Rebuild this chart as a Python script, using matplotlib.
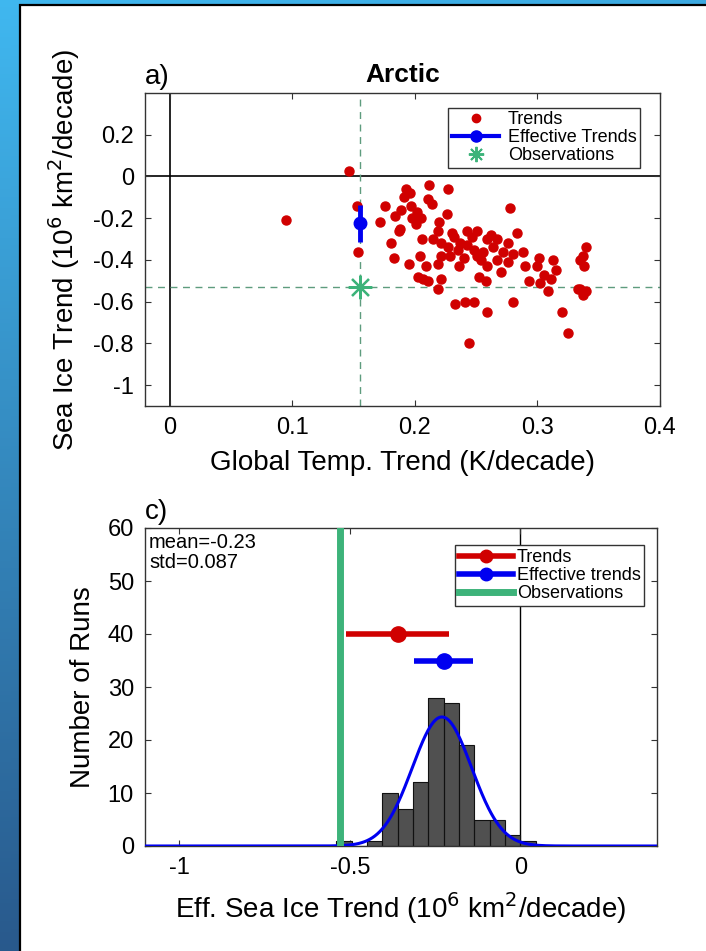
import numpy as np
import matplotlib
matplotlib.use('Agg')
import matplotlib.pyplot as plt
from matplotlib.patches import Rectangle
from matplotlib.lines import Line2D

plt.rcParams['font.family'] = ['Liberation Sans', 'DejaVu Sans']

# per-run trends: global temperature trend vs sea ice trend
glob_trend = [0.146, 0.095, 0.153, 0.154, 0.176, 0.172, 0.181, 0.183, 0.184, 0.187,
              0.193, 0.212, 0.227, 0.191, 0.211, 0.278, 0.189, 0.197, 0.202, 0.198,
              0.205, 0.201, 0.220, 0.188, 0.219, 0.283, 0.206, 0.215, 0.221, 0.232,
              0.243, 0.251, 0.237, 0.247, 0.227, 0.235, 0.259, 0.267, 0.276, 0.264,
              0.272, 0.280, 0.248, 0.256, 0.204, 0.221, 0.229, 0.240, 0.251, 0.267,
              0.276, 0.301, 0.313, 0.335, 0.195, 0.209, 0.219, 0.236, 0.259, 0.270,
              0.290, 0.300, 0.315, 0.203, 0.211, 0.221, 0.207, 0.219, 0.252, 0.258,
              0.293, 0.302, 0.311, 0.309, 0.333, 0.233, 0.241, 0.248, 0.259, 0.280,
              0.320, 0.325, 0.244, 0.337, 0.340, 0.338, 0.335, 0.340, 0.337, 0.196,
              0.214, 0.226, 0.243, 0.262, 0.288, 0.305, 0.230, 0.254]
ice_trend = [0.025, -0.21, -0.14, -0.36, -0.14, -0.22, -0.32, -0.39, -0.19, -0.26,
             -0.06, -0.04, -0.06, -0.10, -0.11, -0.15, -0.16, -0.14, -0.17, -0.20,
             -0.20, -0.23, -0.22, -0.25, -0.26, -0.27, -0.30, -0.30, -0.32, -0.29,
             -0.26, -0.26, -0.32, -0.29, -0.34, -0.35, -0.30, -0.30, -0.32, -0.34,
             -0.36, -0.37, -0.35, -0.36, -0.38, -0.38, -0.38, -0.39, -0.38, -0.40,
             -0.41, -0.39, -0.40, -0.40, -0.42, -0.43, -0.42, -0.43, -0.43, -0.46,
             -0.43, -0.43, -0.45, -0.48, -0.50, -0.49, -0.49, -0.54, -0.48, -0.50,
             -0.50, -0.51, -0.49, -0.55, -0.54, -0.61, -0.60, -0.60, -0.65, -0.60,
             -0.65, -0.75, -0.80, -0.38, -0.34, -0.43, -0.54, -0.55, -0.57, -0.08,
             -0.13, -0.18, -0.33, -0.28, -0.36, -0.47, -0.27, -0.40]

eff_x, eff_y, eff_err = 0.155, -0.225, 0.087
obs_x, obs_y = 0.155, -0.53

# histogram of effective trends
bin_edges = np.arange(-12, 2) * 0.045
counts = [1, 0, 1, 10, 7, 12, 28, 27, 19, 5, 5, 2, 1]
mu, sigma = -0.23, 0.087

trend_mean, trend_err = -0.36, 0.15
eff_mean, eff_spread = -0.225, 0.087

red = '#D00000'
blue = '#0000F0'
green = '#3DB37A'

fig = plt.figure(figsize=(7.06, 9.51), dpi=100)

# backdrop
bg = fig.add_axes([0, 0, 1, 1], zorder=-10)
gy = np.linspace(0, 1, 256)[:, None]
gx = np.linspace(0, 1, 64)[None, :]
g = np.clip(gy + 0.15 * gx, 0, 1)
top_c = np.array([0.25, 0.72, 0.94])
bot_c = np.array([0.16, 0.35, 0.55])
img = top_c[None, None, :] * (1 - g[..., None]) + bot_c[None, None, :] * g[..., None]
bg.imshow(img, aspect='auto', extent=[0, 1, 0, 1], origin='upper')
bg.add_patch(Rectangle((20 / 706, -0.01), 1, 1 - 5 / 951 + 0.01, facecolor='white',
                       edgecolor='black', linewidth=1.6, transform=bg.transAxes))
bg.set_xlim(0, 1)
bg.set_ylim(0, 1)
bg.axis('off')

# a) scatter
ax1 = fig.add_axes([145 / 706, 1 - 406 / 951, 515 / 706, 313 / 951])
ax1.axhline(0, color='black', lw=1.2, zorder=1)
ax1.axvline(0, color='black', lw=1.2, zorder=1)
ax1.axvline(obs_x, color='#5E9C7E', lw=1, ls=(0, (5, 4)), zorder=1)
ax1.axhline(obs_y, color='#5E9C7E', lw=1, ls=(0, (5, 4)), zorder=1)
ax1.plot(glob_trend, ice_trend, 'o', color=red, ms=6.5, mec=red, zorder=3)
ax1.errorbar(eff_x, eff_y, yerr=eff_err, fmt='o', color=blue, ms=9, elinewidth=3.5,
             capsize=0, zorder=4)
ax1.plot(obs_x, obs_y, marker=(8, 2, 0), color=green, ms=17, mew=1.6, ls='none', zorder=4)
ax1.set_xlim(-0.02, 0.4)
ax1.set_ylim(-1.1, 0.4)
ax1.set_xticks([0, 0.1, 0.2, 0.3, 0.4])
ax1.set_xticklabels(['0', '0.1', '0.2', '0.3', '0.4'])
ax1.set_yticks([0.2, 0, -0.2, -0.4, -0.6, -0.8, -1])
ax1.set_yticklabels(['0.2', '0', '-0.2', '-0.4', '-0.6', '-0.8', '-1'])
ax1.set_xlabel('Global Temp. Trend (K/decade)', fontsize=20, labelpad=8)
ax1.set_ylabel('Sea Ice Trend (10$^6$ km$^2$/decade)', fontsize=20, labelpad=8)
ax1.set_title('Arctic', fontsize=19, fontweight='bold', pad=8)
ax1.text(0, 1.01, 'a)', transform=ax1.transAxes, fontsize=20, ha='left', va='bottom')
h1 = [Line2D([], [], marker='o', color=red, ls='none', ms=6),
      Line2D([], [], marker='o', color=blue, lw=3, ms=8),
      Line2D([], [], marker=(8, 2, 0), color=green, ls='none', ms=11, mew=1.4)]
leg1 = ax1.legend(h1, ['Trends', 'Effective Trends', 'Observations'], loc='upper right',
                  bbox_to_anchor=(0.962, 0.953), fontsize=13, frameon=True, fancybox=False,
                  edgecolor='#333333', framealpha=1, handlelength=2.6, borderpad=0.2,
                  labelspacing=0.05, handletextpad=0.5, borderaxespad=0)
leg1.get_frame().set_linewidth(1)

# c) histogram
ax2 = fig.add_axes([145 / 706, 1 - 846 / 951, 512 / 706, 318 / 951])
ax2.stairs(counts, bin_edges, fill=True, facecolor='#505050', edgecolor='none', zorder=2)
ax2.bar(bin_edges[:-1], counts, width=np.diff(bin_edges), align='edge', facecolor='none',
        edgecolor='#111111', lw=0.8, zorder=2)
xs = np.linspace(-1.1, 0.4, 600)
bw = 0.045
ys = sum(counts) * bw / (sigma * np.sqrt(2 * np.pi)) * np.exp(-0.5 * ((xs - mu) / sigma) ** 2)
ax2.plot(xs, ys, color=blue, lw=2.2, zorder=3)
ax2.axvline(0, color='black', lw=1, zorder=1)
ax2.axvline(obs_y, color=green, lw=5, zorder=4)
ax2.errorbar(trend_mean, 40, xerr=trend_err, fmt='o', color=red, ms=11, elinewidth=4,
             capsize=0, zorder=5)
ax2.errorbar(eff_mean, 35, xerr=eff_spread, fmt='o', color=blue, ms=11, elinewidth=4,
             capsize=0, zorder=5)
ax2.set_xlim(-1.1, 0.4)
ax2.set_ylim(0, 60)
ax2.set_xticks([-1, -0.5, 0])
ax2.set_xticklabels(['-1', '-0.5', '0'])
ax2.set_yticks(range(0, 61, 10))
ax2.set_xlabel('Eff. Sea Ice Trend (10$^6$ km$^2$/decade)', fontsize=20, labelpad=8)
ax2.set_ylabel('Number of Runs', fontsize=20, labelpad=8)
ax2.text(0, 1.01, 'c)', transform=ax2.transAxes, fontsize=20, ha='left', va='bottom')
ax2.text(0.008, 0.985, 'mean=%.2f\nstd=%.3f' % (mu, sigma), transform=ax2.transAxes,
         fontsize=14.5, ha='left', va='top', linespacing=1.05)
h2 = [Line2D([], [], marker='o', color=red, lw=4, ms=9),
      Line2D([], [], marker='o', color=blue, lw=4, ms=9),
      Line2D([], [], color=green, lw=5)]
leg2 = ax2.legend(h2, ['Trends', 'Effective trends', 'Observations'], loc='upper right',
                  bbox_to_anchor=(0.975, 0.945), fontsize=13, frameon=True, fancybox=False,
                  edgecolor='#333333', framealpha=1, handlelength=3.0, borderpad=0.2,
                  labelspacing=0.05, handletextpad=0.2, borderaxespad=0)
leg2.get_frame().set_linewidth(1)

for ax in (ax1, ax2):
    ax.tick_params(direction='in', top=True, right=True, labelsize=17, length=4,
                   width=0.8, color='#333333', pad=8)
    for s in ax.spines.values():
        s.set_linewidth(1)
        s.set_color('#333333')

fig.savefig('out.png', dpi=100)
